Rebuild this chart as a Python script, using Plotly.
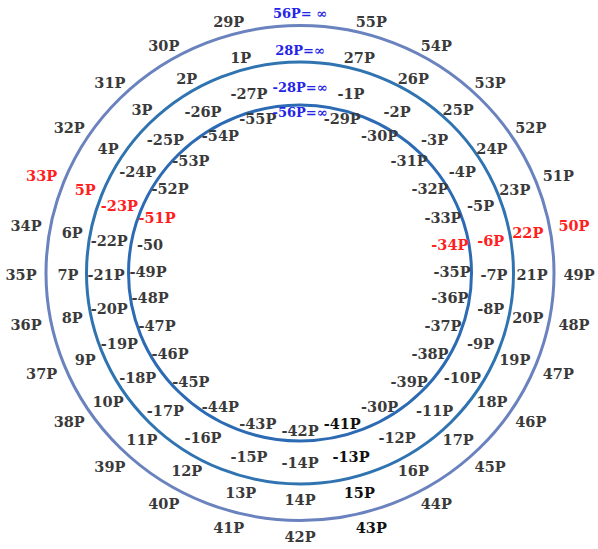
import numpy as np
import plotly.graph_objects as go

# ---------------- data ----------------
outer_labels = ["29P", "30P", "31P", "32P", "33P", "34P", "35P", "36P", "37P", "38P",
                "39P", "40P", "41P", "42P", "43P", "44P", "45P", "46P", "47P", "48P",
                "49P", "50P", "51P", "52P", "53P", "54P", "55P", "56P= ∞"]
middle_labels = ["1P", "2P", "3P", "4P", "5P", "6P", "7P", "8P", "9P", "10P",
                 "11P", "12P", "13P", "14P", "15P", "16P", "17P", "18P", "19P", "20P",
                 "21P", "22P", "23P", "24P", "25P", "26P", "27P", "28P=∞"]
inner_labels = ["-1P", "-2P", "-3P", "-4P", "-5P", "-6P", "-7P", "-8P", "-9P", "-10P",
                "-11P", "-12P", "-13P", "-14P", "-15P", "-16P", "-17P", "-18P", "-19P", "-20P",
                "-21P", "-22P", "-23P", "-24P", "-25P", "-26P", "-27P", "-28P=∞"]
innermost_labels = ["-29P", "-30P", "-31P", "-32P", "-33P", "-34P", "-35P", "-36P", "-37P", "-38P",
                    "-39P", "-30P", "-41P", "-42P", "-43P", "-44P", "-45P", "-46P", "-47P", "-48P",
                    "-49P", "-50", "-51P", "-52P", "-53P", "-54P", "-55P", "-56P=∞"]
red_labels = {"33P", "50P", "5P", "22P", "-6P", "-23P", "-34P", "-51P"}
black_labels = {"43P", "15P", "-13P", "-41P"}

# ---------------- layout constants ----------------
W, H = 598, 549
CX, CY = 300, 273
STEP = 360 / 28
FONT = "DejaVu Serif"

fig = go.Figure()

# rings: (x radius, y radius, colour)
rings = [(254, 247.5, "#6a82be"), (213.5, 211, "#2f74b0"), (171.5, 168, "#2c6bb4")]
for rx, ry, col in rings:
    fig.add_shape(type="circle", xref="x", yref="y",
                  x0=CX - rx, x1=CX + rx, y0=CY - ry, y1=CY + ry,
                  line=dict(color=col, width=3), layer="below")


def add_ring(labels, direction, rx, ry, spread, cy):
    n = np.arange(1, len(labels) + 1)
    phi = np.deg2rad(n * STEP)  # offset from top
    phi = phi + np.deg2rad(spread) * np.sin(2 * phi)
    ang = np.pi / 2 + direction * phi
    xs = CX + rx * np.cos(ang)
    ys = cy - ry * np.sin(ang)
    colors = []
    for t in labels:
        if "∞" in t:
            colors.append("#2424e8")
        elif t in red_labels:
            colors.append("#ff1f1f")
        elif t in black_labels:
            colors.append("#111111")
        else:
            colors.append("#3a3a3a")
    sizes = [13 if "∞" in t else 14.5 for t in labels]
    fig.add_trace(go.Scatter(x=xs, y=ys, mode="text", text=labels,
                             textposition="middle center",
                             textfont=dict(family=FONT, size=sizes, color=colors,
                                           weight="bold"),
                             cliponaxis=False,
                             hoverinfo="skip", showlegend=False))


add_ring(outer_labels, +1, 279, 262, 4.5, CY + 3.5)
add_ring(middle_labels, +1, 232, 225, 4.5, CY + 3.5)
add_ring(inner_labels, -1, 194, 188, 5.5, CY + 3.5)
add_ring(innermost_labels, -1, 152, 159, 7.5, CY)

fig.update_layout(
    width=W, height=H,
    margin=dict(l=0, r=0, t=0, b=0),
    paper_bgcolor="white", plot_bgcolor="white",
    xaxis=dict(range=[0, W], visible=False, fixedrange=True),
    yaxis=dict(range=[H, 0], visible=False, fixedrange=True),
)

fig.write_html("out.html",
               config={"displayModeBar": False},
               post_script="document.body.style.margin='0';"
                           "document.body.style.overflow='hidden';")
